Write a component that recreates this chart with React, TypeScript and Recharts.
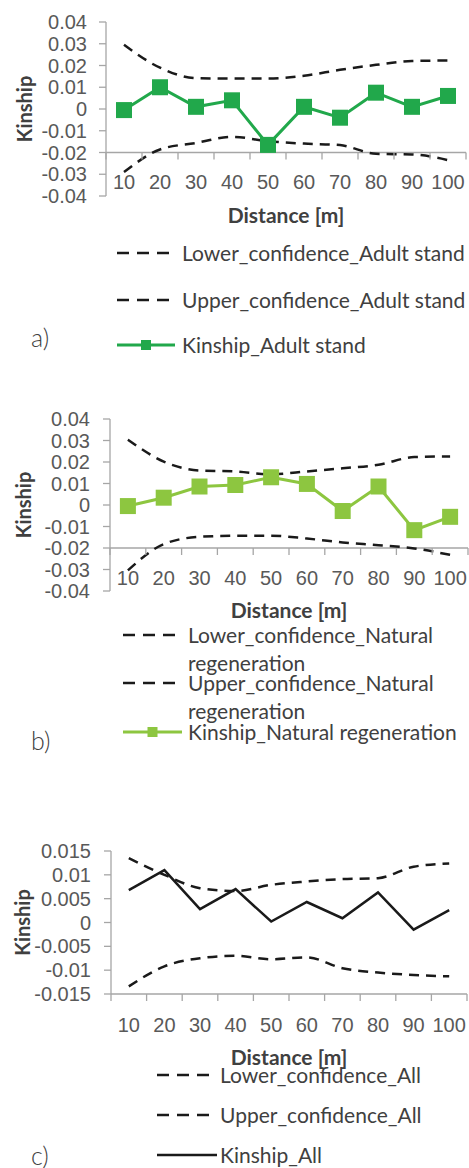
import React from 'react';
import { LineChart, Line, XAxis, YAxis, ReferenceLine, ReferenceDot, Legend } from 'recharts';

// distances (m)
const distances = [10, 20, 30, 40, 50, 60, 70, 80, 90, 100];

// a) adult stand
const kinshipAdult = [-0.0005, 0.010, 0.001, 0.004, -0.0165, 0.001, -0.004, 0.0075, 0.001, 0.006];
const upperAdult = [0.0295, 0.019, 0.0142, 0.014, 0.014, 0.0153, 0.018, 0.0203, 0.0221, 0.0223];
const lowerAdult = [-0.029, -0.0186, -0.0156, -0.0128, -0.0148, -0.0159, -0.0166, -0.0206, -0.0209, -0.0235];

// b) natural regeneration
const kinshipNatural = [-0.0005, 0.0034, 0.0086, 0.0093, 0.0129, 0.0098, -0.0028, 0.0086, -0.0117, -0.0055];
const upperNatural = [0.0304, 0.0202, 0.016, 0.0156, 0.0143, 0.0156, 0.0171, 0.0187, 0.0223, 0.0226];
const lowerNatural = [-0.0304, -0.0182, -0.0148, -0.0143, -0.0143, -0.0156, -0.0174, -0.0187, -0.0202, -0.0232];

// c) all
const kinshipAll = [0.0068, 0.011, 0.0028, 0.007, 0.0002, 0.0043, 0.0009, 0.0063, -0.0015, 0.0026];
const upperAll = [0.0135, 0.0100, 0.0072, 0.0066, 0.0079, 0.0086, 0.0091, 0.0093, 0.0117, 0.0124];
const lowerAll = [-0.0134, -0.0092, -0.0075, -0.007, -0.0077, -0.0073, -0.0096, -0.0105, -0.011, -0.0113];

// axis ticks
const yTicksAB = [-0.04, -0.03, -0.02, -0.01, 0, 0.01, 0.02, 0.03, 0.04];
const yTicksC = [-0.015, -0.01, -0.005, 0, 0.005, 0.01, 0.015];
const xBoundaries = [5, 15, 25, 35, 45, 55, 65, 75, 85, 95, 105];

const TICK_FONT = '"Liberation Sans", Arial, sans-serif';
const TEXT_FONT = 'Lato, "Open Sans", sans-serif';
const AXIS_GREY = '#a6a6a6';
const TICK_GREY = '#595959';
const TEXT_GREY = '#404040';
const DASH_COLOR = '#1a1a1a';

const fmtY = (v: number) => (v === 0 ? '0' : String(Number(v.toFixed(3))));

const buildRows = (lower: number[], upper: number[], kinship: number[]) =>
  distances.map((d, i) => ({ d, lower: lower[i], upper: upper[i], kinship: kinship[i] }));

interface LegendCfg {
  rowYs: number[];
  x1: number;
  x2: number;
  textX: number;
  textWidth: number;
  label: string;
  labelY: number;
}

interface PanelProps {
  top: number;
  height: number;
  plotTop: number;
  plotBottom: number;
  yAxisWidth: number;
  marginRight: number;
  yDomain: [number, number];
  yTicks: number[];
  tickMargin: number;
  axisAt: number;
  data: any[];
  names: string[];
  color: string;
  markers: boolean;
  kinshipWidth: number;
  tickDy: number;
  titleDy: number;
  yLabelX: number;
  legend: LegendCfg;
}

const Panel: React.FC<PanelProps> = (p) => {
  const xAxisHeight = 40;
  const marginBottom = p.height - p.plotBottom - xAxisHeight;

  const squareDot = (props: any) => {
    const { cx, cy, index } = props;
    if (cx == null || cy == null) return <g key={index} />;
    return <rect key={index} x={cx - 8} y={cy - 8} width={16} height={16} fill={p.color} />;
  };

  const renderLegend = (props: any) => {
    // keep the legend in series order: lower, upper, kinship
    const payload = [...(props.payload || [])].sort(
      (a: any, b: any) => p.names.indexOf(a.value) - p.names.indexOf(b.value)
    );
    const lg = p.legend;
    return (
      <div style={{ position: 'absolute', left: 0, top: 0, width: 469 }}>
        <div
          style={{
            position: 'absolute',
            left: 31,
            top: lg.labelY - 16,
            fontFamily: TEXT_FONT,
            fontWeight: 300,
            fontSize: 25,
            lineHeight: '32px',
            color: TEXT_GREY,
          }}
        >
          {lg.label}
        </div>
        {payload.map((entry: any, i: number) => {
          const cy = lg.rowYs[i];
          const isKin = entry.dataKey === 'kinship';
          const w = lg.x2 - lg.x1;
          return (
            <div key={entry.value} style={{ position: 'absolute', left: 0, top: cy - 14, width: 469 }}>
              <svg
                width={w}
                height={28}
                style={{ position: 'absolute', left: lg.x1, top: 0, overflow: 'visible' }}
              >
                {isKin ? (
                  <>
                    <line x1={0} y1={14} x2={w} y2={14} stroke={p.color} strokeWidth={p.kinshipWidth} />
                    {p.markers && <rect x={w / 2 - 5} y={9} width={10} height={10} fill={p.color} />}
                  </>
                ) : (
                  <line x1={0} y1={14} x2={w} y2={14} stroke={DASH_COLOR} strokeWidth={2.5} strokeDasharray="12 8" />
                )}
              </svg>
              <div
                style={{
                  position: 'absolute',
                  left: lg.textX,
                  top: 0,
                  width: lg.textWidth,
                  fontFamily: TEXT_FONT,
                  fontSize: 21,
                  lineHeight: '28px',
                  color: TEXT_GREY,
                }}
              >
                {entry.value}
              </div>
            </div>
          );
        })}
      </div>
    );
  };

  return (
    <div style={{ position: 'absolute', left: 0, top: p.top, width: 469, height: p.height }}>
      <LineChart
        width={469}
        height={p.height}
        data={p.data}
        margin={{ top: p.plotTop, right: p.marginRight, left: 0, bottom: marginBottom }}
      >
        <XAxis
          dataKey="d"
          type="number"
          domain={[5, 105]}
          ticks={distances}
          allowDataOverflow
          axisLine={false}
          tickLine={false}
          tickSize={0}
          tickMargin={0}
          height={xAxisHeight}
          interval={0}
          tick={(t: any) => (
            <text
              key={t.index}
              x={t.x}
              y={t.y}
              dy={p.tickDy}
              textAnchor="middle"
              fill={TICK_GREY}
              fontSize={20}
              fontFamily={TICK_FONT}
            >
              {t.payload.value}
            </text>
          )}
          label={(lp: any) => {
            const vb = lp.viewBox || {};
            return (
              <text
                x={(vb.x ?? p.yAxisWidth) + (vb.width ?? 360) / 2}
                y={(vb.y ?? p.plotBottom) + p.titleDy}
                textAnchor="middle"
                fill={TEXT_GREY}
                fontSize={21}
                fontWeight={700}
                fontFamily={TEXT_FONT}
              >
                Distance [m]
              </text>
            );
          }}
        />
        <YAxis
          type="number"
          domain={p.yDomain}
          ticks={p.yTicks}
          interval={0}
          width={p.yAxisWidth}
          axisLine={{ stroke: AXIS_GREY, strokeWidth: 1.3 }}
          tickLine={{ stroke: AXIS_GREY, strokeWidth: 1.3 }}
          tickSize={7}
          tickMargin={p.tickMargin}
          tickFormatter={fmtY}
          tick={{ fill: TICK_GREY, fontSize: 20, fontFamily: TICK_FONT }}
          label={(lp: any) => {
            const vb = lp.viewBox || {};
            const cy = (vb.y ?? p.plotTop) + (vb.height ?? p.plotBottom - p.plotTop) / 2;
            return (
              <text
                x={p.yLabelX}
                y={cy}
                transform={`rotate(-90, ${p.yLabelX}, ${cy})`}
                textAnchor="middle"
                fill={TEXT_GREY}
                fontSize={20}
                fontWeight={700}
                fontFamily={TEXT_FONT}
              >
                Kinship
              </text>
            );
          }}
        />
        <ReferenceLine y={p.axisAt} stroke={AXIS_GREY} strokeWidth={1.3} ifOverflow="visible" />
        {xBoundaries.map((b) => (
          <ReferenceDot
            key={b}
            x={b}
            y={p.axisAt}
            ifOverflow="visible"
            shape={(sp: any) => (
              <line x1={sp.cx} y1={sp.cy} x2={sp.cx} y2={sp.cy + 7} stroke={AXIS_GREY} strokeWidth={1.3} />
            )}
          />
        ))}
        <Legend
          layout="horizontal"
          verticalAlign="middle"
          align="center"
          wrapperStyle={{ top: 0, left: 0, width: 469, height: 0 }}
          content={renderLegend}
        />
        <Line
          dataKey="lower"
          name={p.names[0]}
          type="monotone"
          stroke={DASH_COLOR}
          strokeWidth={2.5}
          strokeDasharray="10 7"
          dot={false}
          isAnimationActive={false}
        />
        <Line
          dataKey="upper"
          name={p.names[1]}
          type="monotone"
          stroke={DASH_COLOR}
          strokeWidth={2.5}
          strokeDasharray="10 7"
          dot={false}
          isAnimationActive={false}
        />
        <Line
          dataKey="kinship"
          name={p.names[2]}
          type="linear"
          stroke={p.color}
          strokeWidth={p.kinshipWidth}
          dot={p.markers ? squareDot : false}
          activeDot={false}
          isAnimationActive={false}
        />
      </LineChart>
    </div>
  );
};

const App: React.FC = () => (
  <div style={{ position: 'absolute', left: 0, top: 0, width: 469, height: 1168, background: '#fff' }}>
    <Panel
      top={0}
      height={380}
      plotTop={22}
      plotBottom={196}
      yAxisWidth={106}
      marginRight={3}
      yDomain={[-0.04, 0.04]}
      yTicks={yTicksAB}
      tickMargin={12}
      axisAt={-0.02}
      data={buildRows(lowerAdult, upperAdult, kinshipAdult)}
      names={['Lower_confidence_Adult stand', 'Upper_confidence_Adult stand', 'Kinship_Adult stand']}
      color="#21a84b"
      markers
      kinshipWidth={3}
      tickDy={-7}
      titleDy={27}
      yLabelX={32}
      legend={{ rowYs: [253, 300, 345], x1: 117, x2: 175, textX: 182, textWidth: 287, label: 'a)', labelY: 337 }}
    />
    <Panel
      top={380}
      height={420}
      plotTop={39}
      plotBottom={211}
      yAxisWidth={110}
      marginRight={1}
      yDomain={[-0.04, 0.04]}
      yTicks={yTicksAB}
      tickMargin={13}
      axisAt={-0.02}
      data={buildRows(lowerNatural, upperNatural, kinshipNatural)}
      names={['Lower_confidence_Natural regeneration', 'Upper_confidence_Natural regeneration', 'Kinship_Natural regeneration']}
      color="#8dc640"
      markers
      kinshipWidth={3}
      tickDy={-6}
      titleDy={27}
      yLabelX={31}
      legend={{ rowYs: [255, 303, 352], x1: 123, x2: 182, textX: 188, textWidth: 281, label: 'b)', labelY: 360 }}
    />
    <Panel
      top={800}
      height={368}
      plotTop={51}
      plotBottom={194}
      yAxisWidth={111}
      marginRight={2}
      yDomain={[-0.015, 0.015]}
      yTicks={yTicksC}
      tickMargin={13}
      axisAt={-0.015}
      data={buildRows(lowerAll, upperAll, kinshipAll)}
      names={['Lower_confidence_All', 'Upper_confidence_All', 'Kinship_All']}
      color="#1a1a1a"
      markers={false}
      kinshipWidth={2.5}
      tickDy={38}
      titleDy={71}
      yLabelX={30}
      legend={{ rowYs: [275, 315, 355], x1: 157, x2: 217, textX: 220, textWidth: 249, label: 'c)', labelY: 355 }}
    />
  </div>
);

export default App;
